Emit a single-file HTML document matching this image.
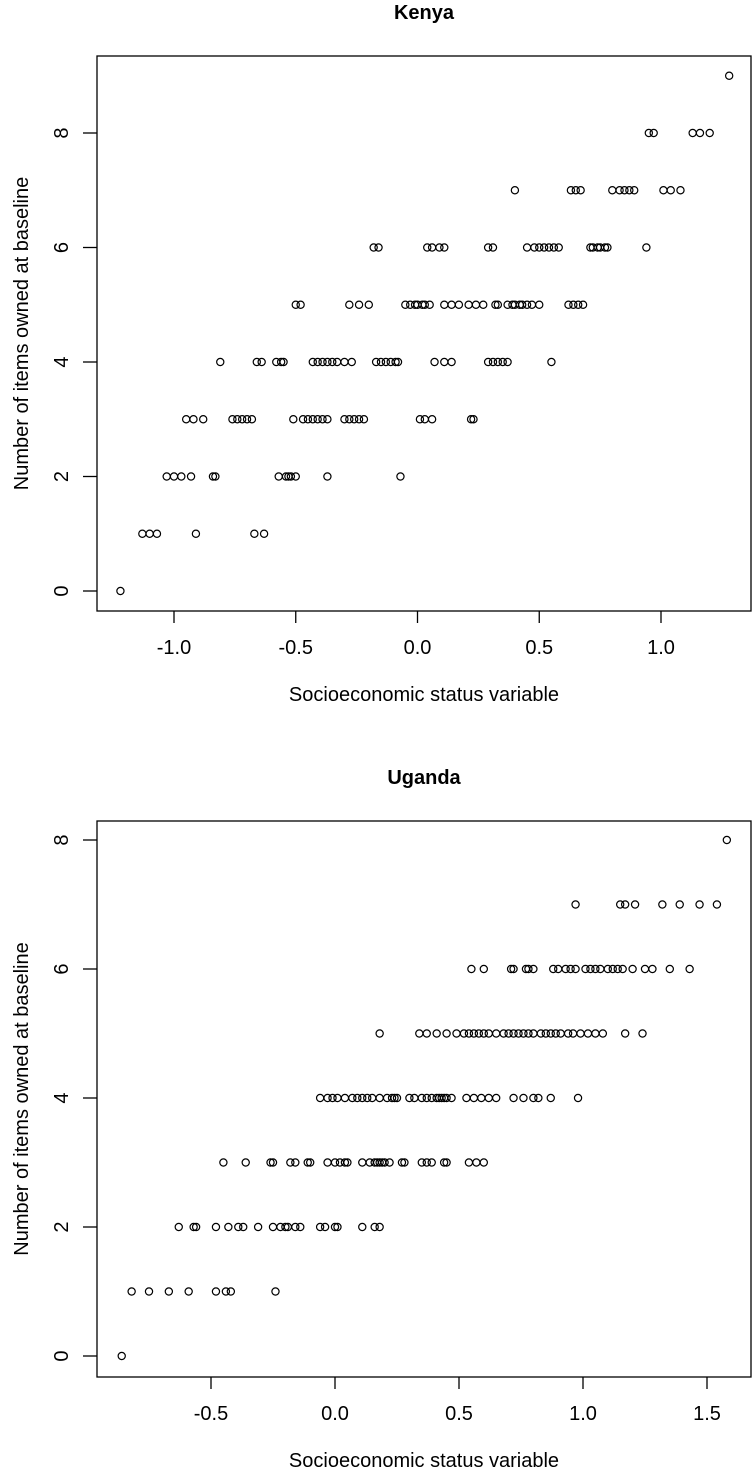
<!DOCTYPE html>
<html><head><meta charset="utf-8"><style>
html,body{margin:0;padding:0;background:#fff;}
svg{display:block;font-family:"Liberation Sans",Arial,sans-serif;}
</style></head><body>
<svg id="chart" width="755" height="1469" viewBox="0 0 755 1469" xmlns="http://www.w3.org/2000/svg"></svg>
<script>
// Kenya data: x values per y level
const kenyaY0 = [-1.22];
const kenyaY1 = [-1.13,-1.10,-1.07,-0.91,-0.67,-0.63];
const kenyaY2 = [-1.03,-1.00,-0.97,-0.93,-0.84,-0.83,-0.57,-0.54,-0.53,-0.52,-0.50,-0.37,-0.07];
const kenyaY3 = [-0.95,-0.92,-0.88,-0.76,-0.74,-0.72,-0.70,-0.68,-0.51,-0.47,-0.45,-0.43,-0.41,-0.39,-0.37,-0.30,-0.28,-0.26,-0.24,-0.22,0.01,0.03,0.06,0.22,0.23];
const kenyaY4 = [-0.81,-0.66,-0.64,-0.58,-0.56,-0.55,-0.43,-0.41,-0.39,-0.37,-0.35,-0.33,-0.30,-0.27,-0.17,-0.15,-0.13,-0.11,-0.09,-0.08,0.07,0.11,0.14,0.29,0.31,0.33,0.35,0.37,0.55];
const kenyaY5 = [-0.50,-0.48,-0.28,-0.24,-0.20,-0.05,-0.03,-0.01,0.00,0.02,0.03,0.05,0.11,0.14,0.17,0.21,0.24,0.27,0.32,0.33,0.37,0.39,0.40,0.42,0.43,0.45,0.47,0.50,0.62,0.64,0.66,0.68];
const kenyaY6 = [-0.18,-0.16,0.04,0.06,0.09,0.11,0.29,0.31,0.45,0.48,0.50,0.52,0.54,0.56,0.58,0.71,0.72,0.74,0.75,0.77,0.78,0.94];
const kenyaY7 = [0.40,0.63,0.65,0.67,0.80,0.83,0.85,0.87,0.89,1.01,1.04,1.08];
const kenyaY8 = [0.95,0.97,1.13,1.16,1.20];
const kenyaY9 = [1.28];
// Uganda data
const ugandaY0 = [-0.86];
const ugandaY1 = [-0.82,-0.75,-0.67,-0.59,-0.48,-0.44,-0.42,-0.24];
const ugandaY2 = [-0.63,-0.57,-0.56,-0.48,-0.43,-0.39,-0.37,-0.31,-0.25,-0.22,-0.20,-0.19,-0.16,-0.14,-0.06,-0.04,0.00,0.01,0.11,0.16,0.18];
const ugandaY3 = [-0.45,-0.36,-0.26,-0.25,-0.18,-0.16,-0.11,-0.10,-0.03,0.00,0.02,0.04,0.05,0.11,0.14,0.16,0.17,0.18,0.19,0.20,0.22,0.27,0.28,0.35,0.37,0.39,0.44,0.45,0.54,0.57,0.60];
const ugandaY4 = [-0.06,-0.03,-0.01,0.01,0.04,0.07,0.09,0.11,0.13,0.15,0.18,0.21,0.23,0.24,0.25,0.30,0.32,0.35,0.37,0.39,0.41,0.42,0.43,0.44,0.45,0.47,0.53,0.56,0.59,0.62,0.65,0.72,0.76,0.80,0.82,0.87,0.98];
const ugandaY5 = [0.18,0.34,0.37,0.41,0.45,0.49,0.52,0.54,0.56,0.58,0.60,0.62,0.65,0.68,0.70,0.72,0.74,0.76,0.78,0.80,0.83,0.85,0.87,0.89,0.91,0.94,0.96,0.99,1.02,1.05,1.08,1.17,1.24];
const ugandaY6 = [0.55,0.60,0.71,0.72,0.77,0.78,0.80,0.88,0.90,0.93,0.95,0.97,1.01,1.03,1.05,1.07,1.10,1.12,1.14,1.16,1.20,1.25,1.28,1.35,1.43];
const ugandaY7 = [0.97,1.15,1.17,1.21,1.32,1.39,1.47,1.54];
const ugandaY8 = [1.58];
const kenyaXTicks = [-1.0,-0.5,0.0,0.5,1.0];
const ugandaXTicks = [-0.5,0.0,0.5,1.0,1.5];
const yTicks = [0,2,4,6,8];

const NS="http://www.w3.org/2000/svg";
const svg=document.getElementById('chart');
function mk(tag,attrs,parent){const e=document.createElementNS(NS,tag);for(const k in attrs)e.setAttribute(k,attrs[k]);(parent||svg).appendChild(e);return e;}

function drawPlot(name,title,rows,xTicks,box,xScale,yScale){
  const g=mk('g',{});
  
  
  const sx=v=>xScale.x0+v*xScale.k;
  const sy=v=>yScale.y0-v*yScale.k;
  const t=mk('text',{x:(box.l+box.r)/2,y:box.t-37,'text-anchor':'middle','font-size':'20','font-weight':'bold'},g);
  t.textContent=title;
  
  
  const r=mk('rect',{x:box.l,y:box.t,width:box.r-box.l,height:box.b-box.t,fill:'none',stroke:'#000','stroke-width':'1.3'},g);
  
  
  xTicks.forEach(v=>{
    const x=sx(v);
    const tk=mk('line',{x1:x,x2:x,y1:box.b,y2:box.b+12,stroke:'#000','stroke-width':'1.3'},g);
    
    
    const lb=mk('text',{x:x,y:box.b+43,'text-anchor':'middle','font-size':'20'},g);
    lb.textContent=v.toFixed(1);
    
    
  });
  yTicks.forEach(v=>{
    const y=sy(v);
    const tk=mk('line',{x1:box.l-14,x2:box.l,y1:y,y2:y,stroke:'#000','stroke-width':'1.3'},g);
    
    
    const lb=mk('text',{x:0,y:0,'text-anchor':'middle','font-size':'20',transform:`translate(68,${y}) rotate(-90)`},g);
    lb.textContent=String(v);
    
    
  });
  const xl=mk('text',{x:(box.l+box.r)/2,y:box.b+90,'text-anchor':'middle','font-size':'20'},g);
  xl.textContent='Socioeconomic status variable';
  
  
  const yl=mk('text',{x:0,y:0,'text-anchor':'middle','font-size':'20',transform:`translate(28,${(box.t+box.b)/2}) rotate(-90)`},g);
  yl.textContent='Number of items owned at baseline';
  
  
  rows.forEach((xs,yv)=>{
    xs.forEach(xv=>{
      const c=mk('circle',{cx:sx(xv),cy:sy(yv),r:3.6,fill:'none',stroke:'#000','stroke-width':'1.2'},g);
      
      
    });
  });
}
drawPlot('kenya','Kenya',[kenyaY0,kenyaY1,kenyaY2,kenyaY3,kenyaY4,kenyaY5,kenyaY6,kenyaY7,kenyaY8,kenyaY9],kenyaXTicks,
  {l:97,r:751,t:56,b:611},{x0:417.5,k:243.5},{y0:591,k:57.25});
drawPlot('uganda','Uganda',[ugandaY0,ugandaY1,ugandaY2,ugandaY3,ugandaY4,ugandaY5,ugandaY6,ugandaY7,ugandaY8],ugandaXTicks,
  {l:97,r:751,t:821,b:1377},{x0:335,k:248},{y0:1356,k:64.5});
</script>
</body></html>
